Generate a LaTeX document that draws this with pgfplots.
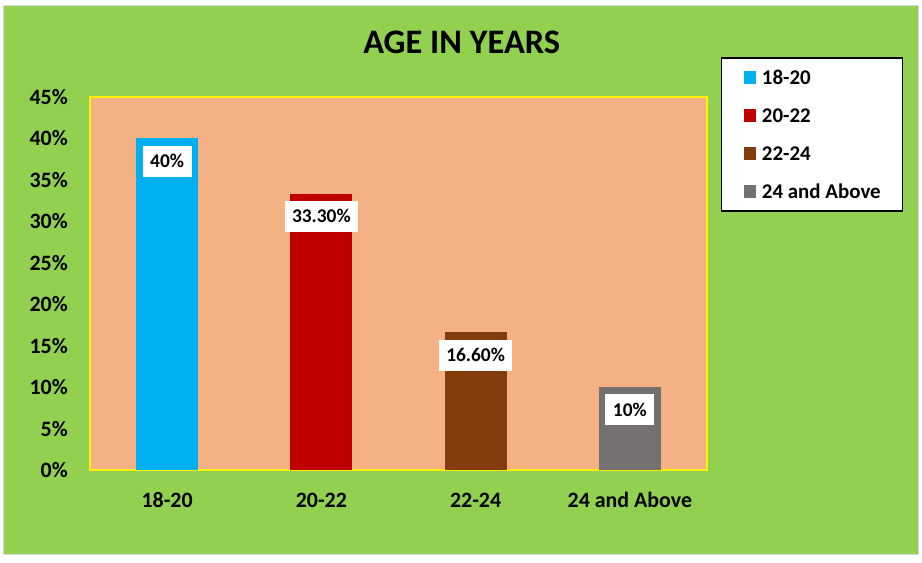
\documentclass[border=0pt]{standalone}
\usepackage{fontspec}
\setmainfont{Carlito}
\usepackage{pgfplots}
\pgfplotsset{compat=1.18}
\definecolor{bggreen}{HTML}{92D050}
\definecolor{plotbg}{HTML}{F4B183}
\definecolor{c1}{HTML}{00B0F0}
\definecolor{c2}{HTML}{C00000}
\definecolor{c3}{HTML}{843C0C}
\definecolor{c4}{HTML}{767171}
\newcommand\fs[1]{\fontsize{#1}{#1}\selectfont\bfseries}
\begin{document}
\begin{tikzpicture}
\path[use as bounding box] (0bp,0bp) rectangle (922bp,563bp);
\fill[white] (0bp,0bp) rectangle (922bp,563bp);
\filldraw[fill=bggreen, draw=black!15, line width=0.8bp] (3bp,9bp) rectangle (918bp,558bp);
\begin{axis}[
  at={(90bp,93bp)}, anchor=south west,
  width=617bp, height=373bp, scale only axis,
  ybar, bar width=62bp, bar shift=0pt,
  xmin=-0.5, xmax=3.5, ymin=0, ymax=45,
  axis background/.style={fill=plotbg},
  axis line style={draw=yellow, line width=1.2bp},
  major tick length=0pt,
  xtick={0,1,2,3},
  xticklabels={18-20,20-22,22-24,24 and Above},
  ytick={0,5,...,45},
  yticklabel={\pgfmathprintnumber{\tick}\%},
  /pgf/number format/assume math mode=true,
  yticklabel style={anchor=east, inner sep=0pt, xshift=-22bp, font=\fs{22}},
  xticklabel style={anchor=base, inner sep=0pt, yshift=-38bp, font=\fs{22}},
  every axis title shift=0pt,
  title={AGE IN YEARS},
  title style={at={(0.6024,1.1153)}, anchor=base, inner sep=0pt, font=\fs{34.5}},
  point meta=explicit symbolic,
  nodes near coords,
  nodes near coords style={anchor=north, yshift=-7bp, fill=white, text=black,
    inner xsep=7.5bp, inner ysep=0pt, minimum height=31bp,
    text height=12.5bp, text depth=0pt, font=\fs{19.5}},
  clip=false,
  legend image code/.code={\fill[#1] (0bp,-6.2bp) rectangle (12.4bp,6.2bp);},
  legend cell align=left,
  legend style={at={(1.0222,1.1064)}, anchor=north west, draw=black,
    line width=1.6bp, fill=white, inner xsep=22bp, inner ysep=12.5bp,
    row sep=24bp, column sep=6bp, font=\fs{21},
    nodes={inner sep=0pt, text height=14bp, text depth=0pt}},
]
\addplot[fill=c1, draw=none] coordinates {(0,40) [40\%]};
\addplot[fill=c2, draw=none] coordinates {(1,33.3) [33.30\%]};
\addplot[fill=c3, draw=none] coordinates {(2,16.6) [16.60\%]};
\addplot[fill=c4, draw=none] coordinates {(3,10) [10\%]};
\legend{18-20,20-22,22-24,24 and Above}
\end{axis}
\end{tikzpicture}
\end{document}
